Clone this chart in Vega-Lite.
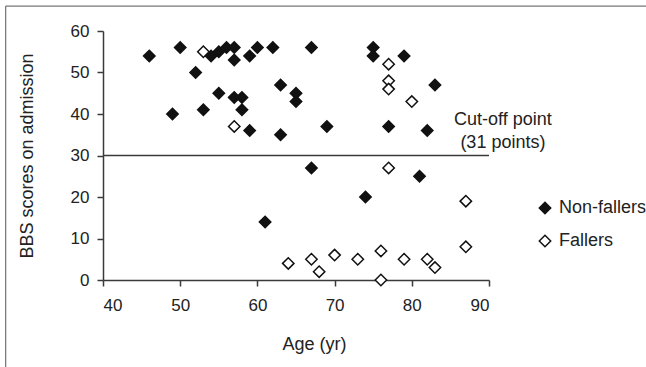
{
  "$schema": "https://vega.github.io/schema/vega-lite/v6.json",
  "autosize": {"type": "none"},
  "width": 386,
  "height": 249,
  "padding": {"left": 103, "top": 31, "right": 157, "bottom": 87},
  "background": "white",
  "data": {"values": [{}]},
  "config": {
    "view": {"stroke": null},
    "font": "Liberation Sans",
    "axis": {
      "grid": false,
      "domainColor": "#3a3a3a",
      "domainWidth": 1.5,
      "tickColor": "#3a3a3a",
      "tickWidth": 1.5,
      "tickSize": 6,
      "labelFont": "Liberation Sans",
      "labelFontSize": 17,
      "labelColor": "#222",
      "titleFont": "Liberation Sans",
      "titleFontSize": 18,
      "titleFontWeight": "normal",
      "titleColor": "#222"
    },
    "legend": {
      "labelFont": "Liberation Sans",
      "labelFontSize": 18,
      "labelColor": "#222"
    }
  },
  "datasets": {
    "pts": [
      {"age": 46, "bbs": 54, "group": "Non-fallers"},
      {"age": 50, "bbs": 56, "group": "Non-fallers"},
      {"age": 52, "bbs": 50, "group": "Non-fallers"},
      {"age": 53, "bbs": 41, "group": "Non-fallers"},
      {"age": 54, "bbs": 54, "group": "Non-fallers"},
      {"age": 55, "bbs": 55, "group": "Non-fallers"},
      {"age": 55, "bbs": 45, "group": "Non-fallers"},
      {"age": 56, "bbs": 56, "group": "Non-fallers"},
      {"age": 57, "bbs": 56, "group": "Non-fallers"},
      {"age": 57, "bbs": 53, "group": "Non-fallers"},
      {"age": 57, "bbs": 44, "group": "Non-fallers"},
      {"age": 58, "bbs": 44, "group": "Non-fallers"},
      {"age": 58, "bbs": 41, "group": "Non-fallers"},
      {"age": 59, "bbs": 54, "group": "Non-fallers"},
      {"age": 59, "bbs": 36, "group": "Non-fallers"},
      {"age": 60, "bbs": 56, "group": "Non-fallers"},
      {"age": 62, "bbs": 56, "group": "Non-fallers"},
      {"age": 63, "bbs": 47, "group": "Non-fallers"},
      {"age": 63, "bbs": 35, "group": "Non-fallers"},
      {"age": 65, "bbs": 45, "group": "Non-fallers"},
      {"age": 65, "bbs": 43, "group": "Non-fallers"},
      {"age": 67, "bbs": 56, "group": "Non-fallers"},
      {"age": 67, "bbs": 27, "group": "Non-fallers"},
      {"age": 69, "bbs": 37, "group": "Non-fallers"},
      {"age": 75, "bbs": 56, "group": "Non-fallers"},
      {"age": 75, "bbs": 54, "group": "Non-fallers"},
      {"age": 77, "bbs": 37, "group": "Non-fallers"},
      {"age": 79, "bbs": 54, "group": "Non-fallers"},
      {"age": 83, "bbs": 47, "group": "Non-fallers"},
      {"age": 82, "bbs": 36, "group": "Non-fallers"},
      {"age": 81, "bbs": 25, "group": "Non-fallers"},
      {"age": 74, "bbs": 20, "group": "Non-fallers"},
      {"age": 61, "bbs": 14, "group": "Non-fallers"},
      {"age": 49, "bbs": 40, "group": "Non-fallers"},
      {"age": 53, "bbs": 55, "group": "Fallers"},
      {"age": 57, "bbs": 37, "group": "Fallers"},
      {"age": 77, "bbs": 52, "group": "Fallers"},
      {"age": 77, "bbs": 48, "group": "Fallers"},
      {"age": 77, "bbs": 46, "group": "Fallers"},
      {"age": 80, "bbs": 43, "group": "Fallers"},
      {"age": 77, "bbs": 27, "group": "Fallers"},
      {"age": 87, "bbs": 19, "group": "Fallers"},
      {"age": 87, "bbs": 8, "group": "Fallers"},
      {"age": 64, "bbs": 4, "group": "Fallers"},
      {"age": 67, "bbs": 5, "group": "Fallers"},
      {"age": 68, "bbs": 2, "group": "Fallers"},
      {"age": 70, "bbs": 6, "group": "Fallers"},
      {"age": 73, "bbs": 5, "group": "Fallers"},
      {"age": 76, "bbs": 7, "group": "Fallers"},
      {"age": 76, "bbs": 0, "group": "Fallers"},
      {"age": 79, "bbs": 5, "group": "Fallers"},
      {"age": 82, "bbs": 5, "group": "Fallers"},
      {"age": 83, "bbs": 3, "group": "Fallers"}
    ],
    "notes": [
      {"age": 91.8, "bbs": 37.3, "label": "Cut-off point"},
      {"age": 91.8, "bbs": 31.8, "label": "(31 points)"}
    ]
  },
  "layer": [
    {
      "mark": {"type": "rule", "color": "#555", "strokeWidth": 1, "clip": false},
      "encoding": {
        "x": {"datum": 27.4, "type": "quantitative", "scale": {"domain": [40, 90], "nice": false, "zero": false}},
        "y": {"datum": -30, "type": "quantitative"},
        "y2": {"datum": 66}
      }
    },
    {
      "mark": {"type": "rule", "color": "#555", "strokeWidth": 1, "clip": false},
      "encoding": {
        "y": {"datum": 66, "type": "quantitative"},
        "x": {"datum": 27.4, "type": "quantitative"},
        "x2": {"datum": 130}
      }
    },
    {
      "mark": {"type": "rule", "color": "#3a3a3a", "strokeWidth": 1.5},
      "encoding": {
        "y": {"datum": 30, "type": "quantitative"},
        "x": {"datum": 40, "type": "quantitative"},
        "x2": {"datum": 90}
      }
    },
    {
      "data": {"name": "pts"},
      "mark": {"type": "point", "shape": "diamond", "filled": true, "size": 130, "stroke": "#111", "strokeWidth": 1.5, "opacity": 1},
      "encoding": {
        "x": {
          "field": "age", "type": "quantitative",
          "scale": {"domain": [40, 90], "nice": false, "zero": false},
          "axis": {"values": [40, 50, 60, 70, 80, 90], "title": "Age (yr)", "labelPadding": 11, "titlePadding": 22, "titleX": 211,
            "encode": {"ticks": {"enter": {"y2": {"value": -6}}, "update": {"y2": {"value": -6}}}}}
        },
        "y": {
          "field": "bbs", "type": "quantitative",
          "scale": {"domain": [0, 60], "nice": false, "zero": false},
          "axis": {"values": [0, 10, 20, 30, 40, 50, 60], "title": "BBS scores on admission", "labelPadding": 8, "titlePadding": 34,
            "encode": {"ticks": {"enter": {"x2": {"value": 6}}, "update": {"x2": {"value": 6}}}}}
        },
        "color": {
          "field": "group", "type": "nominal",
          "scale": {"domain": ["Non-fallers", "Fallers"], "range": ["#111", "white"]},
          "legend": {
            "title": null, "orient": "none", "legendX": 433, "legendY": 168,
            "padding": 0, "symbolSize": 130, "symbolType": "diamond",
            "symbolStrokeColor": "#111", "symbolStrokeWidth": 1.5,
            "labelOffset": 5, "rowPadding": 15
          }
        }
      }
    },
    {
      "data": {"name": "notes"},
      "mark": {"type": "text", "align": "center", "baseline": "alphabetic", "fontSize": 18, "font": "Liberation Sans", "color": "#222", "clip": false},
      "encoding": {
        "x": {"field": "age", "type": "quantitative"},
        "y": {"field": "bbs", "type": "quantitative"},
        "text": {"field": "label"}
      }
    }
  ]
}
